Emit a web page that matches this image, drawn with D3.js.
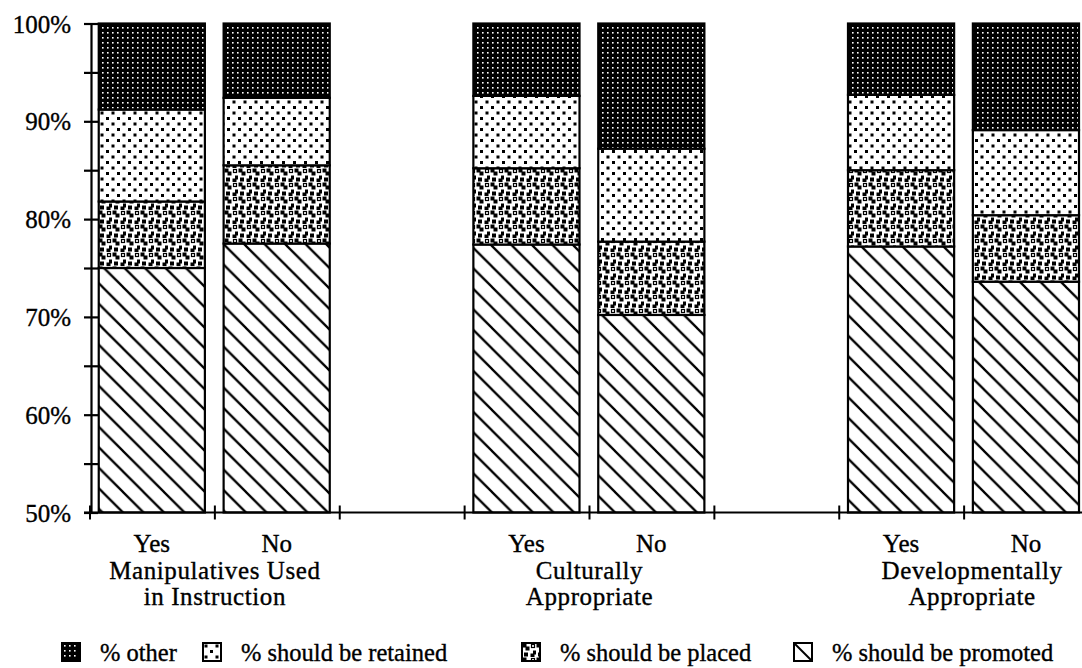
<!DOCTYPE html>
<html>
<head>
<meta charset="utf-8">
<script src="https://cdn.jsdelivr.net/npm/d3@7"></script>
<style>
  body { margin: 0; background: #fff; }
  svg { display: block; }
  text { font-family: "Liberation Serif", "Times New Roman", serif; fill: #000; stroke: #000; stroke-width: 0.35px; }
</style>
</head>
<body>
<div id="container"></div>
<script>
// chart values
var groups = [["Manipulatives Used", "in Instruction"], ["Culturally", "Appropriate"], ["Developmentally", "Appropriate"]];
var answers = ["Yes", "No"];
var slots = ["M-Yes", "M-No", "gap1", "C-Yes", "C-No", "gap2", "D-Yes", "D-No"];
var barSlots = ["M-Yes", "M-No", "C-Yes", "C-No", "D-Yes", "D-No"];
var keys = ["promoted", "placed", "retained", "other"];
var legendLabels = ["% other", "% should be retained", "% should be placed", "% should be promoted"];
var promoted = [75.0, 77.5, 77.4, 70.2, 77.2, 73.6];
var placed   = [6.8, 8.0, 7.8, 7.5, 7.8, 6.8];
var retained = [9.4, 6.9, 7.4, 9.5, 7.7, 8.7];
var other    = [8.8, 7.6, 7.4, 12.8, 7.3, 10.9];
var yTicks = [50, 55, 60, 65, 70, 75, 80, 85, 90, 95, 100];

var width = 1082, height = 668;

var svg = d3.select("#container").append("svg")
	.attr("width", width)
	.attr("height", height);

svg.append("rect").attr("width", width).attr("height", height).attr("fill", "#fff");

// patterns
var defs = svg.append("defs");

var pOther = defs.append("pattern").attr("id", "p-other")
	.attr("patternUnits", "userSpaceOnUse").attr("width", 5).attr("height", 5);
pOther.append("rect").attr("width", 5).attr("height", 5).attr("fill", "#000");
pOther.append("rect").attr("x", 2).attr("y", 2).attr("width", 1.6).attr("height", 1.6).attr("fill", "#fff");

var pRet = defs.append("pattern").attr("id", "p-retained")
	.attr("patternUnits", "userSpaceOnUse").attr("width", 11).attr("height", 11);
pRet.append("rect").attr("width", 11).attr("height", 11).attr("fill", "#fff");
pRet.append("rect").attr("x", 1.5).attr("y", 1.5).attr("width", 3).attr("height", 3).attr("fill", "#000");
pRet.append("rect").attr("x", 7).attr("y", 7).attr("width", 3).attr("height", 3).attr("fill", "#000");

var pPl = defs.append("pattern").attr("id", "p-placed")
	.attr("patternUnits", "userSpaceOnUse").attr("width", 14).attr("height", 14);
pPl.append("rect").attr("width", 14).attr("height", 14).attr("fill", "#fff");
[[0.5, 0.5], [3.5, 3.5], [8.5, 10.5], [11, 7.5], [2, 9.5]].forEach(function(s) {
	pPl.append("rect").attr("x", s[0]).attr("y", s[1]).attr("width", 4).attr("height", 4).attr("fill", "#000");
});
pPl.append("rect").attr("x", 9.5).attr("y", 1.5).attr("width", 3).attr("height", 3)
	.attr("fill", "none").attr("stroke", "#000").attr("stroke-width", 1.2);

var pPr = defs.append("pattern").attr("id", "p-promoted")
	.attr("patternUnits", "userSpaceOnUse").attr("width", 20.5).attr("height", 20.5);
pPr.append("rect").attr("width", 20.5).attr("height", 20.5).attr("fill", "#fff");
pPr.append("path").attr("d", "M-2,-2L22.5,22.5M-3,17.5L3,23.5M17.5,-3L23.5,3")
	.attr("stroke", "#000").attr("stroke-width", 2.3);

var fills = {promoted: "url(#p-promoted)", placed: "url(#p-placed)", retained: "url(#p-retained)", other: "url(#p-other)"};

// scales
var x = d3.scaleBand().domain(slots).range([90, 1089]).padding(0);
var y = d3.scaleLinear().domain([50, 100]).range([512.5, 23.5]).clamp(true);

var rows = barSlots.map(function(s, i) {
	return {slot: s, promoted: promoted[i], placed: placed[i], retained: retained[i], other: other[i]};
});
var series = d3.stack().keys(keys)(rows);

var bw = x.bandwidth() * 0.85, off = x.bandwidth() * 0.07;

// bars
svg.append("g").selectAll("g")
	.data(series).enter()
	.append("g")
		.attr("fill", function(d) { return fills[d.key]; })
	.selectAll("rect")
	.data(function(d) { return d; }).enter()
	.append("rect")
		.attr("x", function(d) { return x(d.data.slot) + off; })
		.attr("width", bw)
		.attr("y", function(d) { return y(d[1]); })
		.attr("height", function(d) { return y(d[0]) - y(d[1]); })
		.attr("stroke", "#000")
		.attr("stroke-width", 2.2);

// y axis
var yAxis = d3.axisLeft(y)
	.tickValues(yTicks)
	.tickSizeInner(7)
	.tickSizeOuter(0)
	.tickPadding(13)
	.tickFormat(function(d) { return d % 10 === 0 ? d + "%" : ""; });

var gy = svg.append("g")
	.attr("transform", "translate(91,0)")
	.call(yAxis);
gy.select(".domain").attr("stroke-width", 2.2);
gy.selectAll(".tick line").attr("x1", 7).attr("stroke-width", 2.2);
gy.selectAll(".tick text")
	.style("font-family", '"Liberation Serif", "Times New Roman", serif')
	.style("font-size", "25px")
	.attr("dy", "0.34em");

// x axis line and slot ticks
var x1 = x.range()[1];
svg.append("line")
	.attr("x1", 84).attr("x2", width)
	.attr("y1", y(50)).attr("y2", y(50))
	.attr("stroke", "#000").attr("stroke-width", 2.2);

var bounds = slots.map(function(s) { return x(s); }).concat([x1]);
svg.append("g").selectAll("line")
	.data(bounds).enter()
	.append("line")
		.attr("x1", function(d) { return d; }).attr("x2", function(d) { return d; })
		.attr("y1", y(50) - 7).attr("y2", y(50) + 7)
		.attr("stroke", "#000").attr("stroke-width", 2);

// category labels
svg.append("g").selectAll("text")
	.data(barSlots).enter()
	.append("text")
		.attr("x", function(d) { return x(d) + off + bw / 2; })
		.attr("y", 552)
		.attr("text-anchor", "middle")
		.style("font-size", "25px")
		.text(function(d, i) { return answers[i % 2]; });

var groupShift = [0, 0, 8];
groups.forEach(function(lines, g) {
	var cx = x(barSlots[g * 2 + 1]) + groupShift[g];
	lines.forEach(function(t, k) {
		svg.append("text")
			.attr("x", cx)
			.attr("y", 579 + k * 26)
			.attr("text-anchor", "middle")
			.style("font-size", "25px")
			.style("letter-spacing", "0.6px")
			.text(t);
	});
});

// legend
var legendKeys = ["other", "retained", "placed", "promoted"];
var legendX = [62, 203, 522, 794];
var legend = svg.selectAll(".legend")
	.data(legendKeys).enter()
	.append("g")
		.attr("class", "legend")
		.attr("transform", function(d, i) { return "translate(" + legendX[i] + ",643)"; });

legend.append("rect")
	.attr("width", 18)
	.attr("height", 18)
	.attr("fill", function(d) { return d === "promoted" ? "#fff" : fills[d]; })
	.attr("stroke", "#000")
	.attr("stroke-width", 2);

legend.filter(function(d) { return d === "promoted"; })
	.append("line")
		.attr("x1", 0).attr("y1", 0).attr("x2", 18).attr("y2", 18)
		.attr("stroke", "#000").attr("stroke-width", 2);

legend.append("text")
	.attr("x", 38)
	.attr("y", 18)
	.style("font-size", "24.5px")
	.text(function(d, i) { return legendLabels[i]; });
</script>
</body>
</html>
